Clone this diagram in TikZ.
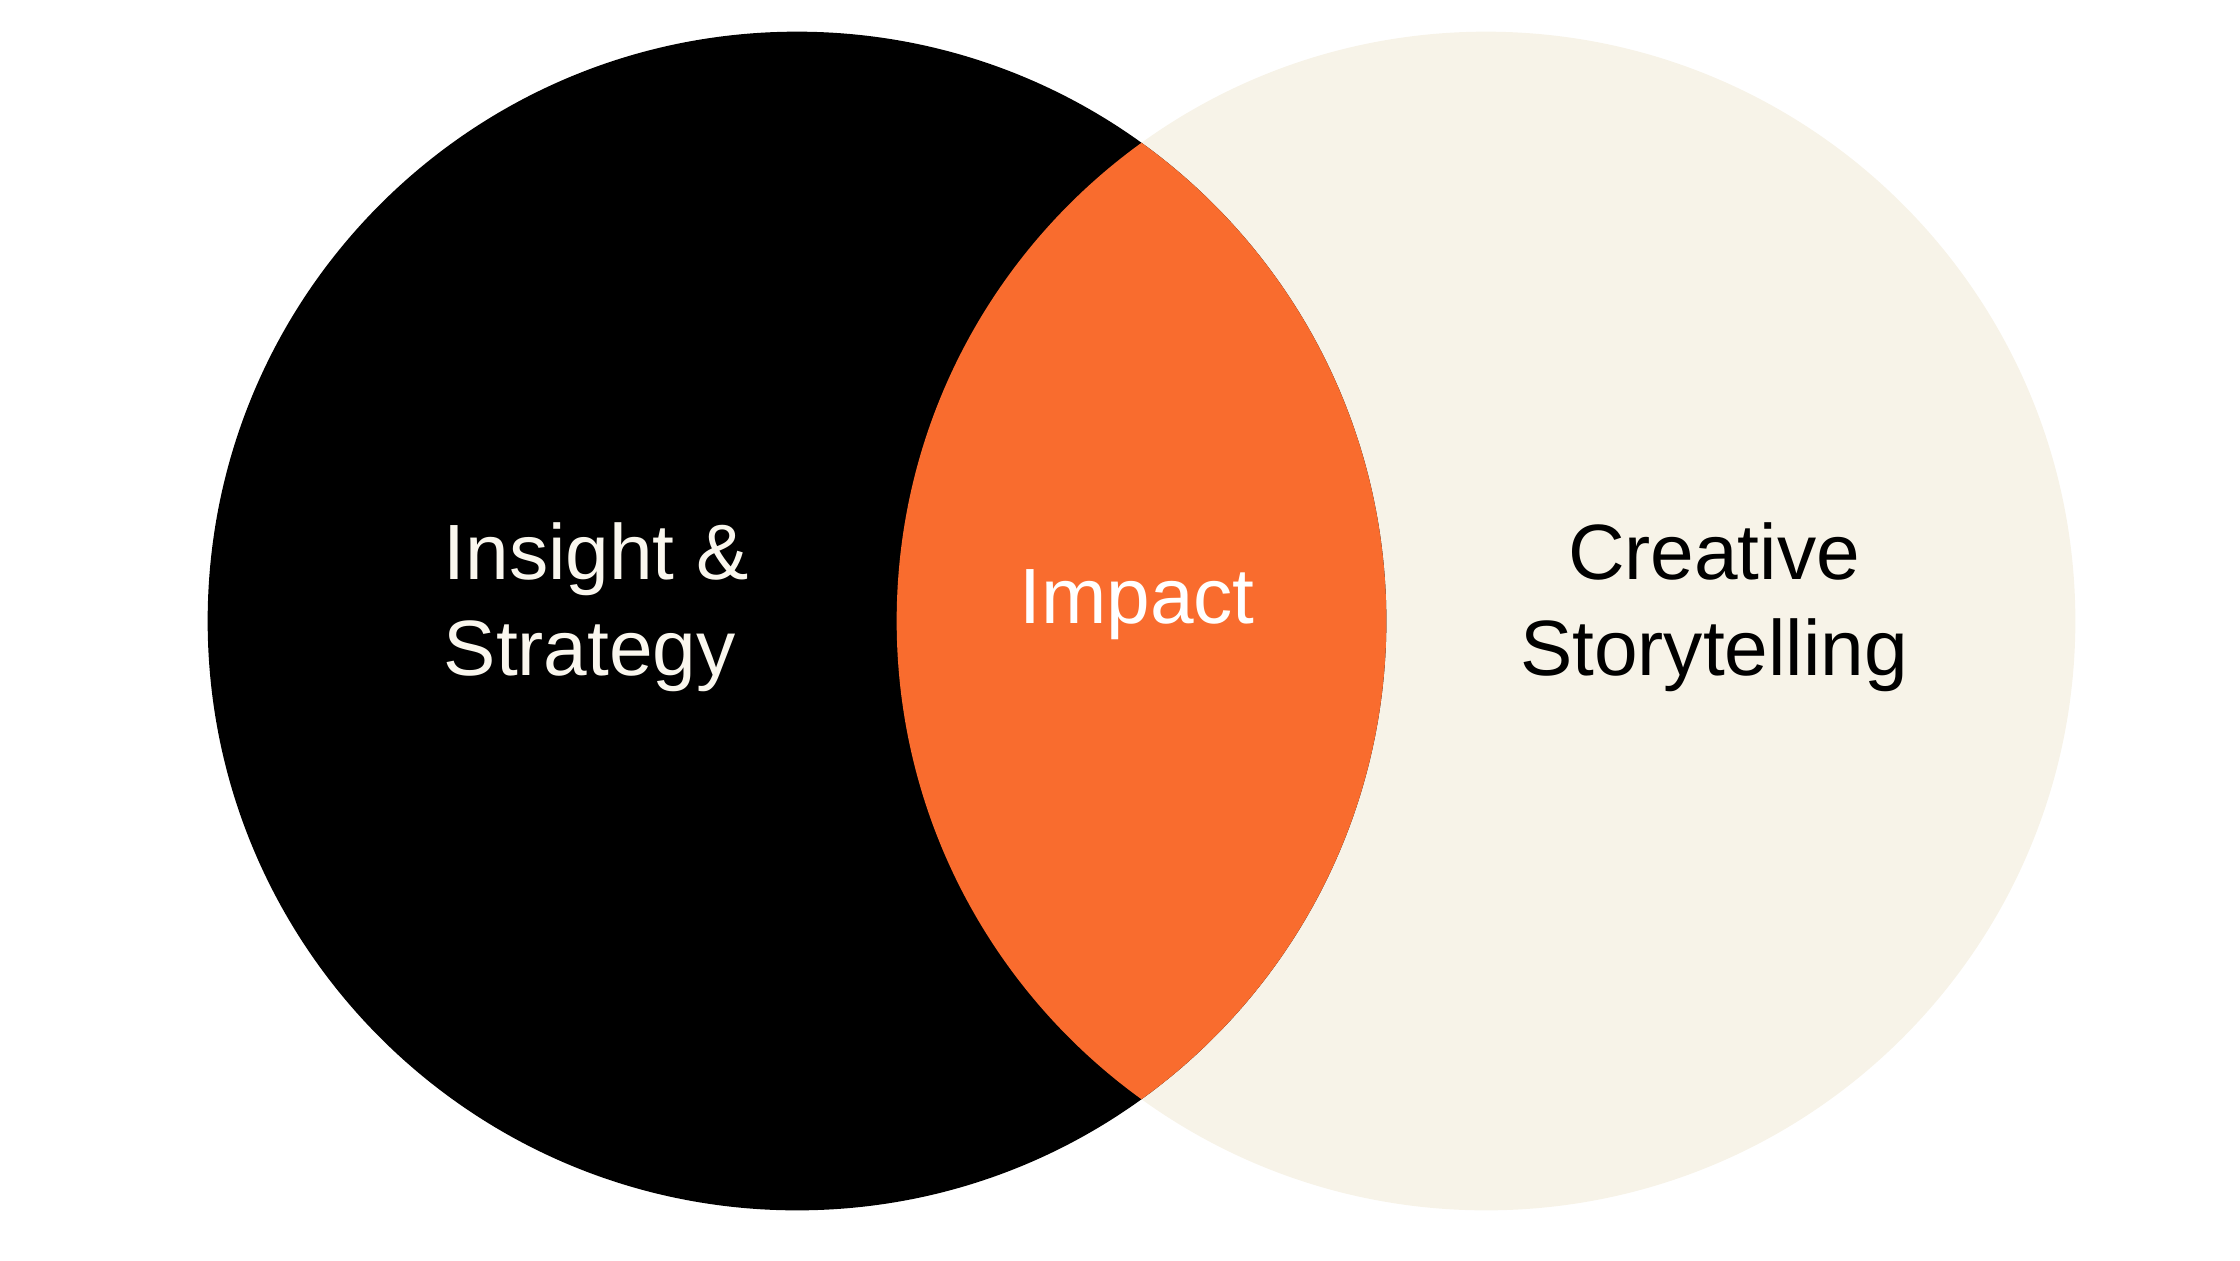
\documentclass[tikz,border=0pt]{standalone}
\usepackage{fontspec}
\setmainfont{Liberation Sans}
\usepackage{tikz}
\definecolor{impactorange}{HTML}{F96C2E}
\definecolor{creamfill}{HTML}{F7F3E8}
\definecolor{creamtext}{HTML}{FAF7EE}

\begin{document}
\begin{tikzpicture}[x=0.01cm,y=-0.01cm,
    vennlabel/.style={font=\fontsize{22.3pt}{27.3pt}\selectfont, inner sep=0pt}]
		\useasboundingbox (0,0) rectangle (2240,1260);

		% beide Kreise
		\fill[creamfill] (1486,621) circle (5.89cm);
		\fill[black] (797,621) circle (5.89cm);

		% Schnittmenge orange
		\begin{scope}
			\clip (797,621) circle (5.89cm);
			\fill[impactorange] (1486,621) circle (5.89cm);
		\end{scope}

		\node[vennlabel, text=creamtext, align=left, anchor=base west] (insight) at (443,675) {Insight \&\\Strategy};
		\node[vennlabel, text=white, anchor=base] (impact) at (1137,623) {Impact};
		\node[vennlabel, text=black, align=center, anchor=base] (creative) at (1714,675) {Creative\\Storytelling};
	\end{tikzpicture}
\end{document}
